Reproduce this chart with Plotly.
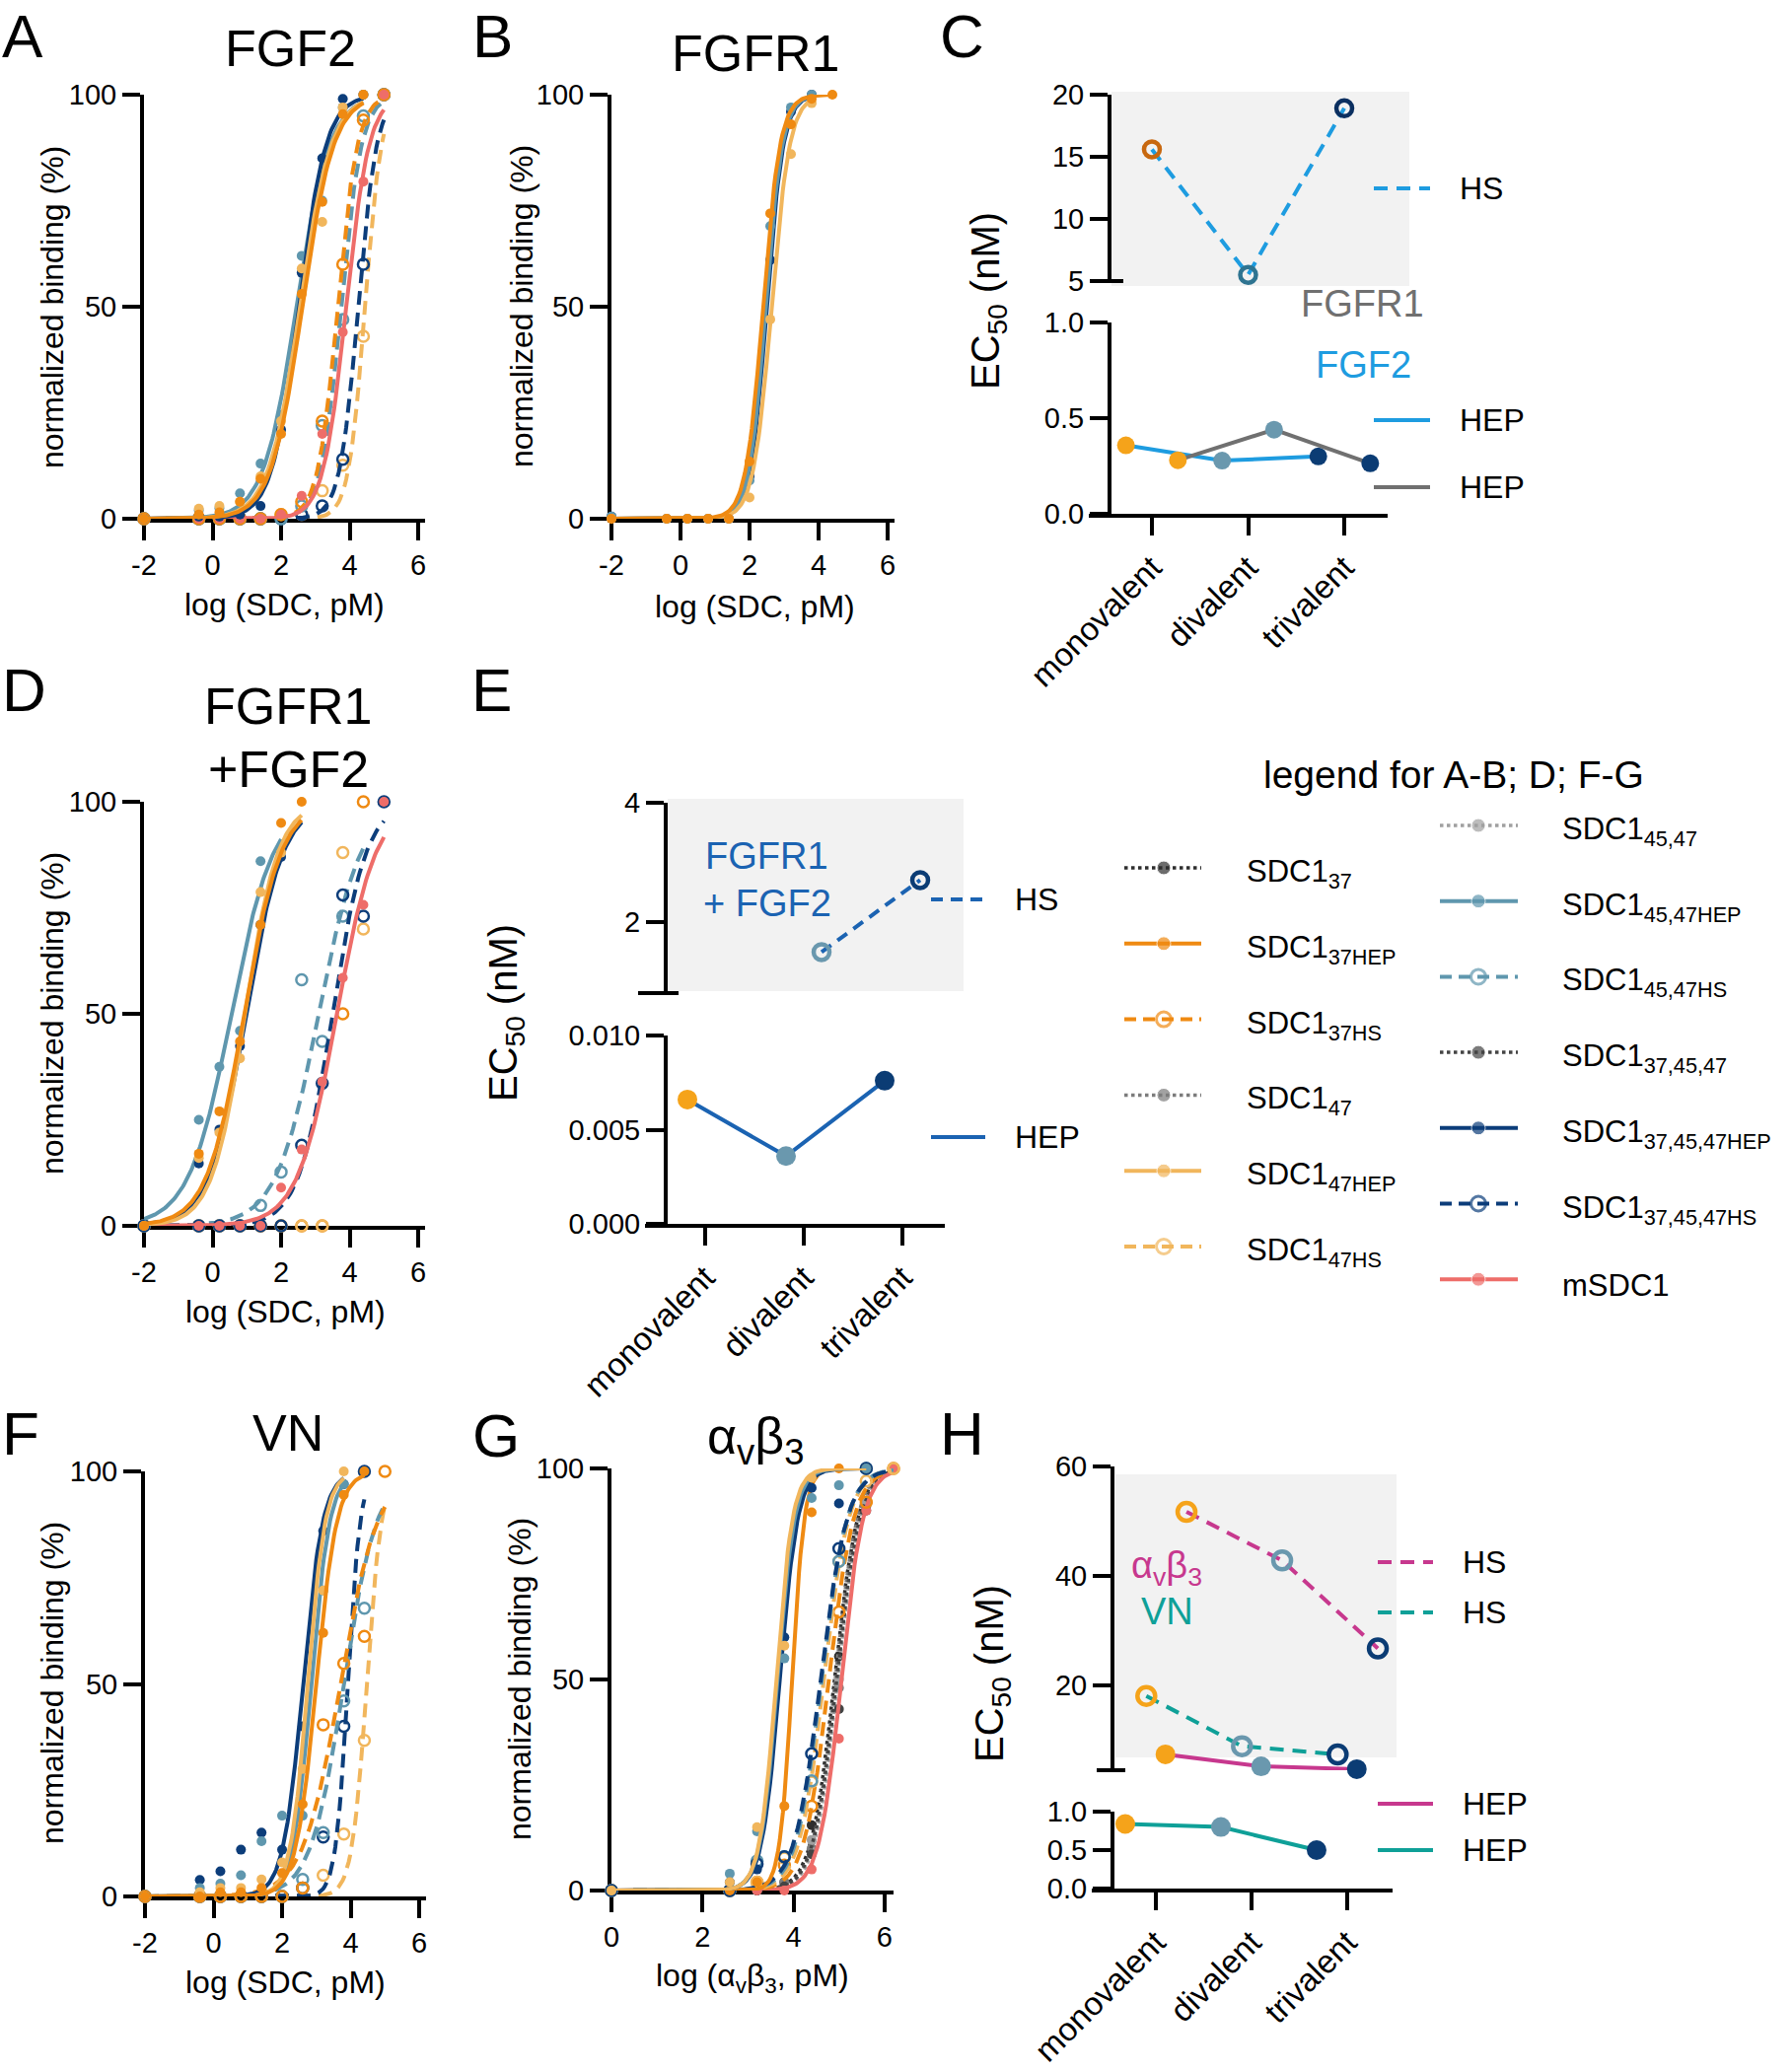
import numpy as np
import plotly.graph_objects as go

W, H = 1817, 2100
FONT = "Liberation Sans, Arial, Helvetica, sans-serif"

# ---------------- data ----------------
# log concentration steps of the titrations
conc_sdc = [-2, -0.4, 0.2, 0.8, 1.4, 2.0, 2.6, 3.2, 3.8, 4.4, 5.0]
conc_avb3 = [0, 2.6, 3.2, 3.8, 4.4, 5.0, 5.6, 6.2]

# measured points, normalized binding (%)
pts_a = {
    "47HS": [0, 0, 0, 0, 0, 1, 1, 6.6, 12.6, 43, 100],
    "374547HS": [0, 0, 0, 0, 0, 0, 1, 3, 14, 60, 100],
    "4547HS": [0, 0, 0, 0, 0, 0, 3, 22, 47, 95, 100],
    "37HS": [0, 0, 0, 0, 0, 1, 4, 23, 60, 94, 100],
    "m": [0, 0, 0, 0, 0, 1, 5.4, 20, 44, 79.5, 100],
    "4547HEP": [0, 2, 2.5, 6, 13, 24.5, 62, 75, 97, 100],
    "374547HEP": [0, 0.5, 0.5, 1, 3, 21, 58, 85, 99, 100],
    "47HEP": [0, 2.4, 3, 4, 10, 23, 59, 70, 97, 100],
    "37HEP": [0, 1, 1.5, 4, 9.4, 20, 53, 74.7, 95.4, 100],
}
pts_b = {
    "374547HEP": [0.5, 0, 0, 0, 0, 10, 61, 96, 100],
    "4547HEP": [0.5, 0, 0, 0, 0, 9, 69, 97, 100],
    "47HEP": [0, 0, 0, 0, 0, 5, 47, 86, 98],
    "37HEP": [0, 0, 0, 0, 0, 13.5, 72, 93, 99, 100],
}
pts_d = {
    "37HS": [0, 0, 0, 0, 0, 0, 0, 0, 50, 100],
    "47HS": [0, 0, 0, 0, 0, 0, 0, 0, 88, 70],
    "4547HS": [0, 0, 0, 0, 4.8, 12.7, 58, 43.5, 73],
    "374547HS": [0, 0, 0, 0, 0, 0, 19, 33.6, 78, 73, 100],
    "m": [0, 0, 0, 0, 0, 9, 18, 34, 58.5, 75.7, 100],
    "4547HEP": [0, 25, 37.5, 46, 86, 88.5],
    "374547HEP": [0, 14.7, 22.7, 42.4, 71, 87],
    "47HEP": [0, 16, 22, 39.5, 78.7, 88],
    "37HEP": [0, 17, 27, 43.5, 71, 95, 100],
}
pts_f = {
    "47HS": [0, 0, 0, 0, 0, 0, 2, 5, 14.7, 36.7],
    "374547HS": [0, 0, 0, 0, 0, 0, 2, 14, 40, 100],
    "4547HS": [0, 0, 0, 0, 0, 0, 4, 15, 46, 67.8],
    "37HS": [0, 0, 0, 0, 0, 0, 2, 40.4, 54.8, 61.2, 100],
    "374547HEP": [0, 3.9, 5.9, 11, 15, 11, 40, 86, 97],
    "4547HEP": [0, 2, 3, 5, 13, 19, 19, 72, 97],
    "47HEP": [0, 1, 2, 2, 4, 8, 30, 72, 100],
    "37HEP": [0, 0, 1, 1, 2, 5.5, 21.7, 62, 94.5, 100],
}
pts_g = {
    "37": [0, 0, 0, 2, 15.5, 55.5, 92, 100],
    "47": [0, 0, 0, 2, 10, 48, 91, 100],
    "4547": [0, 0, 0, 1, 12, 50, 92, 100],
    "374547": [0, 0, 0, 1, 8.6, 43, 90, 100],
    "m": [0, 0, 0, 0, 5, 36, 90, 100],
    "37HS": [0, 0, 2, 6, 20, 66, 92, 100],
    "47HS": [0, 0, 2, 7.7, 25.7, 78, 97, 100],
    "4547HS": [0, 0, 7, 8, 26, 78, 100],
    "374547HS": [0, 0, 6.3, 8, 32.4, 81, 100],
    "37HEP": [0, 0, 2, 20, 89.6, 100, 100],
    "374547HEP": [0, 2, 5, 60, 95.4, 91.7, 100],
    "4547HEP": [0, 4, 14, 55, 93, 96, 100],
    "47HEP": [0, 2, 15, 58, 97.8],
}

# fitted dose-response lines: (log EC50, Hill slope, last x of the line)
fit_a = {
    "47HS": (4.45, 1.8, 5.0), "374547HS": (4.25, 1.6, 5.0),
    "4547HS": (3.75, 1.45, 5.0), "37HS": (3.65, 1.5, 5.0), "m": (3.9, 1.3, 5.0),
    "4547HEP": (2.45, 0.9, 4.4), "374547HEP": (2.52, 1.1, 4.4),
    "47HEP": (2.55, 0.95, 4.4), "37HEP": (2.62, 0.95, 4.4),
}
fit_b = {
    "374547HEP": (2.5, 1.8, 3.8), "4547HEP": (2.47, 1.8, 3.8),
    "47HEP": (2.64, 1.65, 3.8), "37HEP": (2.39, 1.75, 4.4),
}
fit_d = {
    "4547HS": (3.1, 0.7, 4.4), "374547HS": (3.5, 0.88, 5.0), "m": (3.63, 0.76, 5.0),
    "4547HEP": (0.55, 0.7, 2.0), "374547HEP": (0.98, 0.8, 2.6),
    "47HEP": (0.95, 0.9, 2.6), "37HEP": (0.92, 0.8, 2.6),
}
fit_f = {
    "47HS": (4.47, 2.0, 5.0), "374547HS": (3.92, 2.4, 4.4),
    "4547HS": (3.8, 0.9, 5.0), "37HS": (3.7, 0.8, 5.0),
    "374547HEP": (2.61, 1.5, 3.8), "4547HEP": (2.85, 1.6, 3.8),
    "47HEP": (2.75, 1.7, 3.8), "37HEP": (3.0, 1.45, 4.4),
}
fit_g = {
    "37": (4.9, 1.7, 6.2), "47": (4.92, 1.8, 6.2), "4547": (4.97, 1.75, 6.2),
    "374547": (4.95, 1.7, 6.2), "m": (5.05, 1.8, 6.2),
    "37HS": (4.78, 1.6, 6.2), "47HS": (4.67, 1.6, 6.2),
    "4547HS": (4.62, 1.55, 6.2), "374547HS": (4.6, 1.5, 6.2),
    "37HEP": (3.97, 3.2, 5.6), "374547HEP": (3.7, 2.2, 5.6),
    "4547HEP": (3.65, 2.3, 5.6), "47HEP": (3.62, 2.4, 5.6),
}

# EC50 summaries (nM)
cat_labels = ["monovalent", "divalent", "trivalent"]
c_fgf2_hs = [15.6, 5.5, 18.9]
c_fgf2_hep = [0.358, 0.278, 0.30]
c_fgfr1_hep = [0.28, 0.44, 0.264]
e_hs = [None, 1.49, 2.70]
e_hep = [0.0066, 0.0036, 0.0076]
h_avb3_hs = [51.7, 42.8, 26.7]
h_vn_hs = [18.0, 8.8, 7.3]
h_avb3_hep = [7.3, 5.1, 4.6]
h_vn_hep = [0.84, 0.80, 0.50]

legend_left = ["37", "37HEP", "37HS", "47", "47HEP", "47HS"]
legend_right = ["4547", "4547HEP", "4547HS", "374547", "374547HEP", "374547HS", "m"]
legend_names = {
    "37": "SDC1<sub>37</sub>", "37HEP": "SDC1<sub>37HEP</sub>", "37HS": "SDC1<sub>37HS</sub>",
    "47": "SDC1<sub>47</sub>", "47HEP": "SDC1<sub>47HEP</sub>", "47HS": "SDC1<sub>47HS</sub>",
    "4547": "SDC1<sub>45,47</sub>", "4547HEP": "SDC1<sub>45,47HEP</sub>",
    "4547HS": "SDC1<sub>45,47HS</sub>", "374547": "SDC1<sub>37,45,47</sub>",
    "374547HEP": "SDC1<sub>37,45,47HEP</sub>", "374547HS": "SDC1<sub>37,45,47HS</sub>",
    "m": "mSDC1",
}

# ---------------- styles ----------------
COLORS = {
    "37": "#2e2e2e", "47": "#7c7c7c", "4547": "#a0a0a0", "374547": "#444444",
    "37HEP": "#EF8A12", "37HS": "#EF8A12", "47HEP": "#F1B65C", "47HS": "#F1B65C",
    "4547HEP": "#5F97AE", "4547HS": "#5F97AE",
    "374547HEP": "#0C3D7A", "374547HS": "#0C3D7A", "m": "#EE6D69",
}
DOTTED = ["37", "47", "4547", "374547"]
VAL_COLORS = ["#F5A31A", "#6A98AE", "#0B3C74"]
BLUE_C = "#1E9CE0"
GREY_C = "#707070"
BLUE_E = "#1B63B2"
MAGENTA = "#C7388E"
TEAL = "#0FA098"
BOX = "#F2F2F2"

fig = go.Figure()
layout = {}
shapes = []
annotations = []


def X(px):
    return px / W


def Y(py):
    return 1 - py / H


def axname(i):
    return ("x" if i == 1 else f"x{i}"), ("y" if i == 1 else f"y{i}")


def axkey(i):
    return ("xaxis" if i == 1 else f"xaxis{i}"), ("yaxis" if i == 1 else f"yaxis{i}")


AX = dict(showline=True, linewidth=4, linecolor="black", ticks="outside", ticklen=18,
          tickwidth=4, tickcolor="black", showgrid=False, zeroline=False, automargin=False,
          layer="below traces", tickfont=dict(family=FONT, size=29, color="black"))


def txt(x, y, s, size, color="black", angle=0, xanchor="center", yanchor="middle"):
    annotations.append(dict(x=X(x), y=Y(y), xref="paper", yref="paper", text=s,
                            showarrow=False, textangle=angle, xanchor=xanchor,
                            yanchor=yanchor, font=dict(family=FONT, size=size, color=color)))


def hline(x0, x1, y, color, width=4, dash="solid"):
    shapes.append(dict(type="line", xref="paper", yref="paper", x0=X(x0), x1=X(x1),
                       y0=Y(y), y1=Y(y), line=dict(color=color, width=width, dash=dash)))


def box(x0, x1, y0, y1):
    shapes.append(dict(type="rect", xref="paper", yref="paper", x0=X(x0), x1=X(x1),
                       y0=Y(y1), y1=Y(y0), fillcolor=BOX, line=dict(width=0), layer="below"))


def line_style(key):
    c = COLORS[key]
    if key in DOTTED:
        return dict(color=c, width=3.5, dash="dot")
    if key.endswith("HS"):
        return dict(color=c, width=4, dash="14px,8px")
    return dict(color=c, width=4)


def marker_style(key, size=10):
    c = COLORS[key]
    if key.endswith("HS"):
        return dict(symbol="circle-open", size=size + 1, color=c, line=dict(width=2.5, color=c))
    return dict(symbol="circle", size=size, color=c)


# ---------------- dose-response panels ----------------
def curve_panel(i, x0, x1, ytop, ybot, xr, xticks, conc, pts, fits, xstart):
    xk, yk = axkey(i)
    xn, yn = axname(i)
    layout[xk] = dict(AX, domain=[X(x0), X(x1)], range=xr, anchor=yn,
                      tickvals=xticks, ticktext=[str(t) for t in xticks])
    layout[yk] = dict(AX, domain=[Y(ybot), Y(ytop)], range=[0, 100], anchor=xn,
                      tickvals=[0, 50, 100], ticktext=["0", "50", "100"])
    for key in pts:
        if key in fits:
            ec, hill, xe = fits[key]
            xs = np.linspace(xstart, xe, 160)
            ys = 100 / (1 + 10 ** ((ec - xs) * hill))
            fig.add_trace(go.Scatter(x=xs, y=ys, mode="lines", line=line_style(key),
                                     xaxis=xn, yaxis=yn, cliponaxis=False, hoverinfo="skip"))
        vals = pts[key]
        fig.add_trace(go.Scatter(x=conc[:len(vals)], y=vals, mode="markers",
                                 marker=marker_style(key), xaxis=xn, yaxis=yn,
                                 cliponaxis=False))


curve_panel(1, 146, 431, 96, 526, [-2, 6.2], [-2, 0, 2, 4, 6], conc_sdc, pts_a, fit_a, -2)
curve_panel(2, 620, 907, 96, 526, [-2, 6.2], [-2, 0, 2, 4, 6], conc_sdc, pts_b, fit_b, -2)
curve_panel(3, 146, 431, 813, 1243, [-2, 6.2], [-2, 0, 2, 4, 6], conc_sdc, pts_d, fit_d, -2)
curve_panel(4, 147, 432, 1492, 1923, [-2, 6.2], [-2, 0, 2, 4, 6], conc_sdc, pts_f, fit_f, -2)
curve_panel(5, 620, 906, 1489, 1917, [0, 6.2], [0, 2, 4, 6], conc_avb3, pts_g, fit_g, 0)


# ---------------- EC50 panels with broken y axis ----------------
def cat_panel(lo, up, xdom, xr, yx, lodom, lor, lotv, lott, updom, upr, uptv, uptt):
    xk, yk = axkey(lo)
    xn, yn = axname(lo)
    xku, yku = axkey(up)
    xnu, ynu = axname(up)
    layout[xk] = dict(AX, domain=[X(xdom[0]), X(xdom[1])], range=xr, anchor=yn,
                      tickvals=[0, 1, 2], ticktext=cat_labels, tickangle=-45,
                      tickfont=dict(family=FONT, size=33, color="black"))
    layout[yk] = dict(AX, domain=[Y(lodom[1]), Y(lodom[0])], range=lor, anchor="free",
                      position=X(yx), tickvals=lotv, ticktext=lott)
    layout[xku] = dict(domain=[X(xdom[0]), X(xdom[1])], range=xr, anchor=ynu,
                       visible=False, automargin=False)
    layout[yku] = dict(AX, domain=[Y(updom[1]), Y(updom[0])], range=upr, anchor="free",
                       position=X(yx), tickvals=uptv, ticktext=uptt)
    return (xn, yn), (xnu, ynu)


def ec_trace(axes, xpos, vals, color, dash, open_marker, msize, mcolors):
    keep = [k for k, v in enumerate(vals) if v is not None]
    if open_marker:
        mk = dict(symbol="circle-open", size=msize, color=[mcolors[k] for k in keep],
                  line=dict(width=4.5))
    else:
        mk = dict(symbol="circle", size=msize, color=[mcolors[k] for k in keep])
    fig.add_trace(go.Scatter(x=[xpos[k] for k in keep], y=[vals[k] for k in keep],
                             mode="lines+markers", line=dict(color=color, width=4, dash=dash),
                             marker=mk, xaxis=axes[0], yaxis=axes[1], cliponaxis=False))


cats = [0, 1, 2]

# C
box(1127, 1429, 93, 290)
c_lo, c_up = cat_panel(6, 7, (1104, 1407), [-0.656, 2.451], 1125,
                       (327, 521), [0, 1], [0, 0.5, 1], ["0.0", "0.5", "1.0"],
                       (96, 285), [5, 20], [5, 10, 15, 20], ["5", "10", "15", "20"])
ring_c = ["#C8680F", "#2F7491", "#0B2F60"]
ec_trace(c_up, cats, c_fgf2_hs, BLUE_C, "14px,9px", True, 16, ring_c)
ec_trace(c_lo, [c - 0.27 for c in cats], c_fgf2_hep, BLUE_C, "solid", False, 18, VAL_COLORS)
ec_trace(c_lo, [c + 0.27 for c in cats], c_fgfr1_hep, GREY_C, "solid", False, 18, VAL_COLORS)
hline(1110, 1139, 285, "black")

# E
box(677, 977, 810, 1005)
e_lo, e_up = cat_panel(8, 9, (654, 958), [-0.61, 2.43], 675,
                       (1050, 1241), [0, 0.010], [0, 0.005, 0.010], ["0.000", "0.005", "0.010"],
                       (814, 1007), [0.8, 4], [2, 4], ["2", "4"])
ec_trace(e_up, [c + 0.18 for c in cats], e_hs, BLUE_E, "12px,8px", True, 16, VAL_COLORS)
ec_trace(e_lo, [c - 0.18 for c in cats], e_hep, BLUE_E, "solid", False, 20, VAL_COLORS)
hline(647, 688, 1007, "black")

# H
box(1131, 1416, 1495, 1782)
h_lo, h_up = cat_panel(10, 11, (1107, 1412), [-0.67, 2.474], 1128,
                       (1837, 1915), [0, 1], [0, 0.5, 1], ["0.0", "0.5", "1.0"],
                       (1487, 1795), [4.4, 60], [20, 40, 60], ["20", "40", "60"])
ec_trace(h_up, [c + 0.32 for c in cats], h_avb3_hs, MAGENTA, "14px,9px", True, 18, VAL_COLORS)
ec_trace(h_up, [c - 0.10 for c in cats], h_vn_hs, TEAL, "14px,9px", True, 18, VAL_COLORS)
ec_trace(h_up, [c + 0.10 for c in cats], h_avb3_hep, MAGENTA, "solid", False, 20, VAL_COLORS)
ec_trace(h_lo, [c - 0.32 for c in cats], h_vn_hep, TEAL, "solid", False, 20, VAL_COLORS)
hline(1112, 1141, 1795, "black")

# small legends of C, E, H
hline(1393, 1450, 191, BLUE_C, dash="14px,9px")
txt(1478, 191, "HS", 32, xanchor="left")
txt(1381, 308, "FGFR1", 38, GREY_C)
txt(1382, 370, "FGF2", 38, BLUE_C)
hline(1393, 1450, 426, BLUE_C)
txt(1478, 426, "HEP", 32, xanchor="left")
hline(1393, 1450, 494, GREY_C)
txt(1478, 494, "HEP", 32, xanchor="left")

hline(944, 999, 912, BLUE_E, dash="12px,8px")
txt(1027, 912, "HS", 32, xanchor="left")
hline(944, 999, 1153, BLUE_E)
txt(1027, 1153, "HEP", 32, xanchor="left")
txt(777, 868, "FGFR1", 38, BLUE_E)
txt(778, 916, "+ FGF2", 38, BLUE_E)

hline(1397, 1453, 1584, MAGENTA, dash="14px,9px")
txt(1481, 1584, "HS", 32, xanchor="left")
hline(1397, 1453, 1635, TEAL, dash="14px,9px")
txt(1481, 1635, "HS", 32, xanchor="left")
hline(1397, 1453, 1829, MAGENTA)
txt(1481, 1829, "HEP", 32, xanchor="left")
hline(1397, 1453, 1876, TEAL)
txt(1481, 1876, "HEP", 32, xanchor="left")
txt(1183, 1590, "α<sub>v</sub>β<sub>3</sub>", 38, MAGENTA)
txt(1183, 1634, "VN", 38, TEAL)

# ---------------- main legend (pixel overlay axis) ----------------
layout["xaxis12"] = dict(domain=[0, 1], range=[0, W], visible=False, fixedrange=True,
                         automargin=False)
layout["yaxis12"] = dict(domain=[0, 1], range=[H, 0], visible=False, fixedrange=True,
                         automargin=False)


def legend_row(key, xl, xm, xr, y, xt):
    c = COLORS[key]
    ls = line_style(key)
    if key.endswith("HS"):
        ls = dict(ls, dash="12px,7px")
        mk = dict(symbol="circle-open", size=[0, 15, 0], color=c, line=dict(width=3, color=c))
    else:
        mk = dict(symbol="circle", size=[0, 14, 0], color=c)
    fig.add_trace(go.Scatter(x=[xl, xm, xr], y=[y, y, y], mode="lines+markers", line=ls,
                             marker=mk, xaxis="x12", yaxis="y12", cliponaxis=False,
                             hoverinfo="skip"))
    txt(xt, y + 6, legend_names[key], 31, xanchor="left")


for k, key in enumerate(legend_left):
    legend_row(key, 1140, 1180, 1218, 880 + 76.8 * k, 1262)
for k, key in enumerate(legend_right):
    legend_row(key, 1460, 1499, 1539, 837 + 76.7 * k, 1582)
txt(1474, 785, "legend for A-B; D; F-G", 39)

# ---------------- titles and labels ----------------
txt(0, 0, "A", 62, xanchor="left", yanchor="top")
txt(500, 0, "B", 62, yanchor="top")
txt(975, 0, "C", 62, yanchor="top")
txt(0, 700, "D", 62, xanchor="left")
txt(498, 700, "E", 62)
txt(0, 1453, "F", 62, xanchor="left")
txt(503, 1455, "G", 62)
txt(975, 1453, "H", 62)

txt(294, 49, "FGF2", 52)
txt(766, 54, "FGFR1", 52)
txt(292, 716, "FGFR1", 52)
txt(292, 780, "+FGF2", 52)
txt(292, 1453, "VN", 52)
txt(766, 1460, "α<sub>v</sub>β<sub>3</sub>", 52)

yt = "normalized binding (%)"
txt(53, 312, yt, 32, angle=-90)
txt(529, 311, yt, 32, angle=-90)
txt(53, 1028, yt, 32, angle=-90)
txt(53, 1707, yt, 32, angle=-90)
txt(527, 1703, yt, 32, angle=-90)

txt(288, 613, "log (SDC, pM)", 32)
txt(765, 615, "log (SDC, pM)", 32)
txt(289, 1330, "log (SDC, pM)", 32)
txt(289, 2010, "log (SDC, pM)", 32)
txt(763, 2005, "log (α<sub>v</sub>β<sub>3</sub>, pM)", 32)

ect = "EC<sub>50</sub> (nM)"
txt(1002, 305, ect, 40, angle=-90)
txt(513, 1027, ect, 40, angle=-90)
txt(1006, 1697, ect, 40, angle=-90)

fig.update_layout(
    width=W, height=H, margin=dict(l=0, r=0, t=0, b=0, pad=0, autoexpand=False),
    paper_bgcolor="white", plot_bgcolor="rgba(0,0,0,0)",
    showlegend=False, font=dict(family=FONT, color="black"),
    shapes=shapes, annotations=annotations, **layout,
)

# the page's default body margin would push the figure 8px off
fig.write_html("out.html", config={"displayModeBar": False},
               post_script="document.body.style.margin = '0px';")
